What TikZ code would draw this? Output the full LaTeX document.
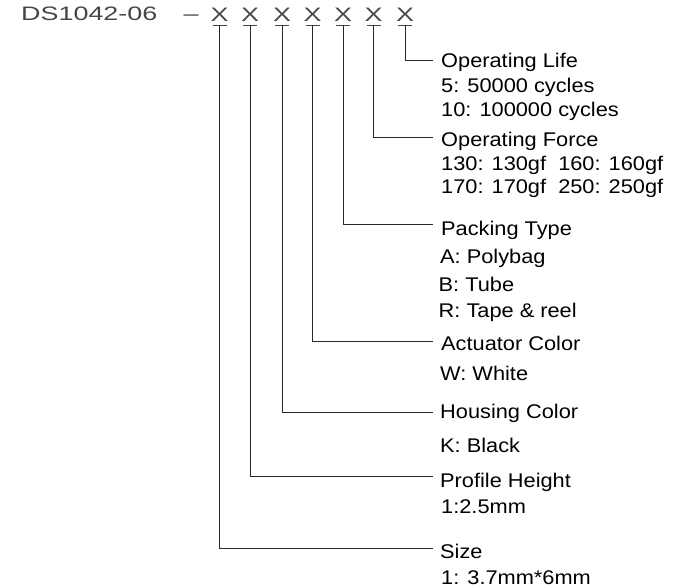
\documentclass[tikz,border=0pt]{standalone}
\usepackage{fontspec}
\setmainfont{Liberation Sans}[FakeStretch=1.1]
\newfontfamily\hdrfont{Liberation Sans}[FakeStretch=1.38]
\definecolor{hdrgray}{RGB}{70,70,70}
\definecolor{linegray}{RGB}{40,40,40}
\begin{document}
\begin{tikzpicture}[x=1pt,y=-1pt,
  lbl/.style={anchor=base west, inner sep=0pt, text=black, font=\fontsize{19.8}{23}\selectfont},
  hdr/.style={anchor=base west, inner sep=0pt, text=hdrgray, font=\hdrfont\fontsize{19.5}{23}\selectfont},
  xmark/.style={anchor=base, inner sep=0pt, text=hdrgray, font=\hdrfont\fontsize{19.5}{23}\selectfont},
  uline/.style={draw=hdrgray, line width=0.8pt},
  conn/.style={draw=linegray, line width=0.9pt}]
\useasboundingbox (0,0) rectangle (675,588);

% header
\node[hdr] (code) at (21,20.7) {DS1042-06};
\node[xmark] (sep) at (191,20.7) {–};
\foreach \i/\x in {1/219.5,2/250,3/282,4/312.5,5/343,6/373.5,7/405}{
  \node[xmark] (x\i) at (\x,21.5) {X};
  \coordinate (u\i) at (\x,25);
  \draw[uline] (\x-7,25) -- (\x+7,25);
}

% labels
\node[lbl] (t7) at (441,68) {Operating Life};
\node[lbl] (t7a) at (441,93) {5: 50000 cycles};
\node[lbl] (t7b) at (441,117) {10: 100000 cycles};

\node[lbl] (t6) at (441,147) {Operating Force};
\node[lbl] (t6a) at (441,171) {130: 130gf\ \ 160: 160gf};
\node[lbl] (t6b) at (441,193.5) {170: 170gf\ \ 250: 250gf};

\node[lbl] (t5) at (441,236) {Packing Type};
\node[lbl] (t5a) at (440,264) {A: Polybag};
\node[lbl] (t5b) at (438.5,291) {B: Tube};
\node[lbl] (t5c) at (438.5,317.5) {R: Tape \& reel};

\node[lbl] (t4) at (441,350) {Actuator Color};
\node[lbl] (t4a) at (440,380) {W: White};

\node[lbl] (t3) at (440,418.5) {Housing Color};
\node[lbl] (t3a) at (440,452) {K: Black};

\node[lbl] (t2) at (440,487) {Profile Height};
\node[lbl] (t2a) at (441,513.5) {1:2.5mm};

\node[lbl] (t1) at (440,558.5) {Size};
\node[lbl] (t1a) at (441,584.5) {1: 3.7mm*6mm};

% connector ends
\coordinate (e7) at (433,60);
\coordinate (e6) at (433,137.5);
\coordinate (e5) at (433,224);
\coordinate (e4) at (433,341);
\coordinate (e3) at (433,412);
\coordinate (e2) at (433,476);
\coordinate (e1) at (433,548.5);

\foreach \i in {1,...,7}{
  \draw[conn] (u\i) |- (e\i);
}
\end{tikzpicture}
\end{document}
